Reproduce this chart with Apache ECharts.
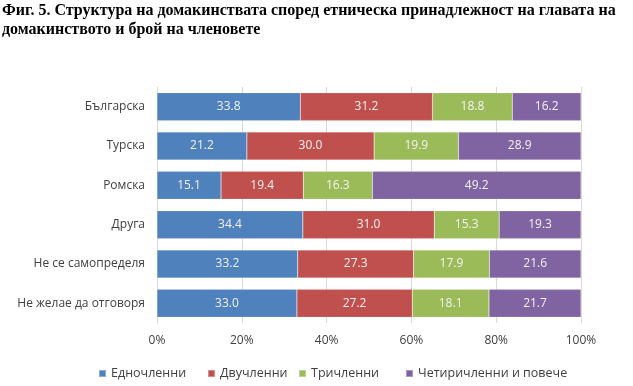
<!DOCTYPE html>
<html><head><meta charset="utf-8">
<script src="https://cdn.jsdelivr.net/npm/echarts@6/dist/echarts.min.js"></script>
<style>html,body{margin:0;padding:0;background:#fff}#c{width:633px;height:386px}</style>
</head><body><div id="c"></div>
<script>
const categories = ["Българска","Турска","Ромска","Друга","Не се самопределя","Не желае да отговоря"];
const seriesNames = ["Едночленни","Двучленни","Тричленни","Четиричленни и повече"];
const s1 = [33.8,21.2,15.1,34.4,33.2,33.0];
const s2 = [31.2,30.0,19.4,31.0,27.3,27.2];
const s3 = [18.8,19.9,16.3,15.3,17.9,18.1];
const s4 = [16.2,28.9,49.2,19.3,21.6,21.7];
const colors = ["#4F81BD","#C0504D","#9BBB59","#8064A2"];
const data = [s1,s2,s3,s4];
const legendLefts = [98,207,298,405];
const chart = echarts.init(document.getElementById('c'));
chart.setOption({
  animation:false,
  title:{text:"Фиг. 5. Структура на домакинствата според етническа принадлежност на главата на\nдомакинството и брой на членовете",left:2,top:1,padding:0,
    textStyle:{fontFamily:"Liberation Serif",fontWeight:"bold",fontSize:16,color:"#000",lineHeight:19}},
  grid:{left:157,right:52,top:87,bottom:63},
  xAxis:{type:'value',min:0,max:100,interval:20,
    axisLabel:{formatter:'{value}%',color:'#404040',fontFamily:'Open Sans',fontSize:12,margin:12},
    splitLine:{lineStyle:{color:'#D9D9D9',width:1}},axisLine:{show:false},axisTick:{show:false}},
  yAxis:{type:'category',data:categories,inverse:true,
    axisLabel:{color:'#404040',fontFamily:'Open Sans',fontSize:12,margin:12},
    axisLine:{show:true,lineStyle:{color:'#D9D9D9'}},axisTick:{show:false}},
  legend:seriesNames.map((n,i)=>({data:[n],bottom:6,left:legendLefts[i],padding:0,itemWidth:7,itemHeight:7,icon:'rect',
    textStyle:{color:'#404040',fontFamily:'Open Sans',fontSize:12.5}})),
  series:data.map((d,i)=>({name:seriesNames[i],type:'bar',stack:'t',data:d,barCategoryGap:'29%',
    itemStyle:{color:colors[i],borderColor:'rgba(255,255,255,0.35)',borderWidth:0.5},
    label:{show:true,position:'inside',formatter:p=>p.value.toFixed(1),color:'#F2F2F2',fontFamily:'Open Sans',fontSize:12}}))
});
</script></body></html>
